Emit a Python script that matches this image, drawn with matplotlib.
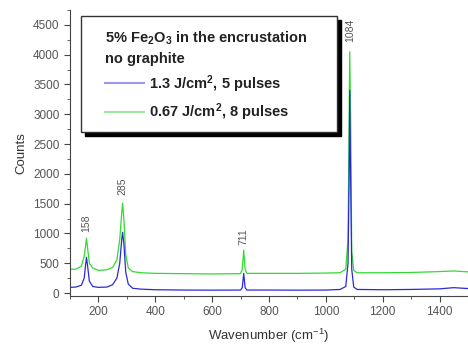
import matplotlib
matplotlib.use("Agg")
import matplotlib.pyplot as plt
from matplotlib.lines import Line2D
from matplotlib.patches import Rectangle
from matplotlib.ticker import MultipleLocator

plt.rcParams['font.family'] = ['Liberation Sans', 'DejaVu Sans']
plt.rcParams['mathtext.default'] = 'regular'

wavenumber = [100, 120, 140, 150, 155, 158, 162, 168, 180, 200, 230, 250, 265, 275, 282, 285,
              290, 296, 305, 320, 350, 400, 500, 600, 700, 706, 711, 716, 722, 800, 900, 1000,
              1050, 1070, 1078, 1082, 1084, 1087, 1091, 1098, 1110, 1200, 1300, 1400, 1450, 1500]
blue_counts = [95, 100, 130, 250, 480, 600, 450, 200, 110, 95, 100, 140, 250, 500, 900, 1020,
               800, 350, 150, 80, 65, 55, 50, 48, 50, 90, 330, 90, 50, 50, 48, 50,
               60, 110, 500, 2000, 3400, 2000, 400, 100, 60, 55, 60, 70, 90, 75]
green_counts = [400, 400, 450, 620, 800, 920, 750, 500, 420, 380, 390, 430, 560, 900, 1350, 1510,
                1200, 650, 420, 360, 340, 330, 325, 320, 325, 400, 720, 400, 330, 330, 330, 335,
                340, 400, 900, 3000, 4050, 3000, 700, 380, 340, 340, 345, 360, 370, 355]
peak_labels = ["158", "285", "711", "1084"]
peak_pos = [158, 285, 711, 1084]
peak_label_y = [1170, 1800, 940, 4400]
series_labels = ["1.3 J/cm$^2$, 5 pulses", "0.67 J/cm$^2$, 8 pulses"]
legend_title = "5% Fe$_2$O$_3$ in the encrustation\nno graphite"

blue = '#2b2bd6'
green = '#2fdc2f'

W, H = 468, 344
fig = plt.figure(figsize=(W / 100, H / 100), dpi=100)
ax_l, ax_b, ax_w, ax_h = 70, 48, 398, 286
ax = fig.add_axes([ax_l / W, ax_b / H, ax_w / W, ax_h / H])

ax.plot(wavenumber, green_counts, color=green, lw=0.9)
ax.plot(wavenumber, blue_counts, color=blue, lw=0.9)

for lab, xp, yp in zip(peak_labels, peak_pos, peak_label_y):
    ax.text(xp, yp, lab, rotation=90, ha='center', va='center', fontsize=7.5, color='#555555')

ax.set_xlim(100, 1500)
ax.set_ylim(-50, 4750)
ax.xaxis.set_major_locator(MultipleLocator(200))
ax.xaxis.set_minor_locator(MultipleLocator(100))
ax.yaxis.set_major_locator(MultipleLocator(500))
ax.yaxis.set_minor_locator(MultipleLocator(250))
ax.spines['top'].set_visible(False)
ax.spines['right'].set_visible(False)
for s in ('left', 'bottom'):
    ax.spines[s].set_color('#444444')
    ax.spines[s].set_linewidth(0.8)
ax.tick_params(which='major', direction='out', length=4, width=0.8, color='#444444',
               labelsize=8.5, labelcolor='#555555')
ax.tick_params(which='minor', direction='out', length=2, width=0.6, color='#444444')
ax.set_xlabel("Wavenumber (cm$^{-1}$)", fontsize=9.5, color='#333333', labelpad=6)
ax.set_ylabel("Counts", fontsize=9.5, color='#333333', labelpad=4)


def fig_px(x, y_from_top):
    return (x / W, 1 - y_from_top / H)


# legend frame with black shadow (pixel geometry from top-left)
fx0, fy0, fx1, fy1 = 81, 16, 337, 132
shadow = Rectangle(fig_px(fx0 + 4, fy1 + 4), (fx1 - fx0) / W, (fy1 - fy0) / H,
                   transform=fig.transFigure, facecolor='black', edgecolor='black', zorder=5)
frame = Rectangle(fig_px(fx0, fy1), (fx1 - fx0) / W, (fy1 - fy0) / H,
                  transform=fig.transFigure, facecolor='white', edgecolor='#333333',
                  lw=1.0, zorder=6)
fig.add_artist(shadow)
fig.add_artist(frame)

handles = [Line2D([], [], color='#9a9ae6', lw=1.5), Line2D([], [], color='#9ee89e', lw=1.5)]
leg = fig.legend(handles, series_labels, title=legend_title, loc='upper left',
                 bbox_to_anchor=fig_px(105, 30), bbox_transform=fig.transFigure,
                 borderaxespad=0, borderpad=0, frameon=False, alignment='left',
                 prop={'weight': 'bold', 'size': 10.5},
                 title_fontproperties={'weight': 'bold', 'size': 10.5},
                 handlelength=2.7, handletextpad=0.35, labelspacing=0.45)
leg.set_zorder(7)
for t in leg.get_texts():
    t.set_color('#222222')
leg.get_title().set_color('#222222')
leg.get_title().set_linespacing(1.45)

fig.savefig("out.png", dpi=100)
